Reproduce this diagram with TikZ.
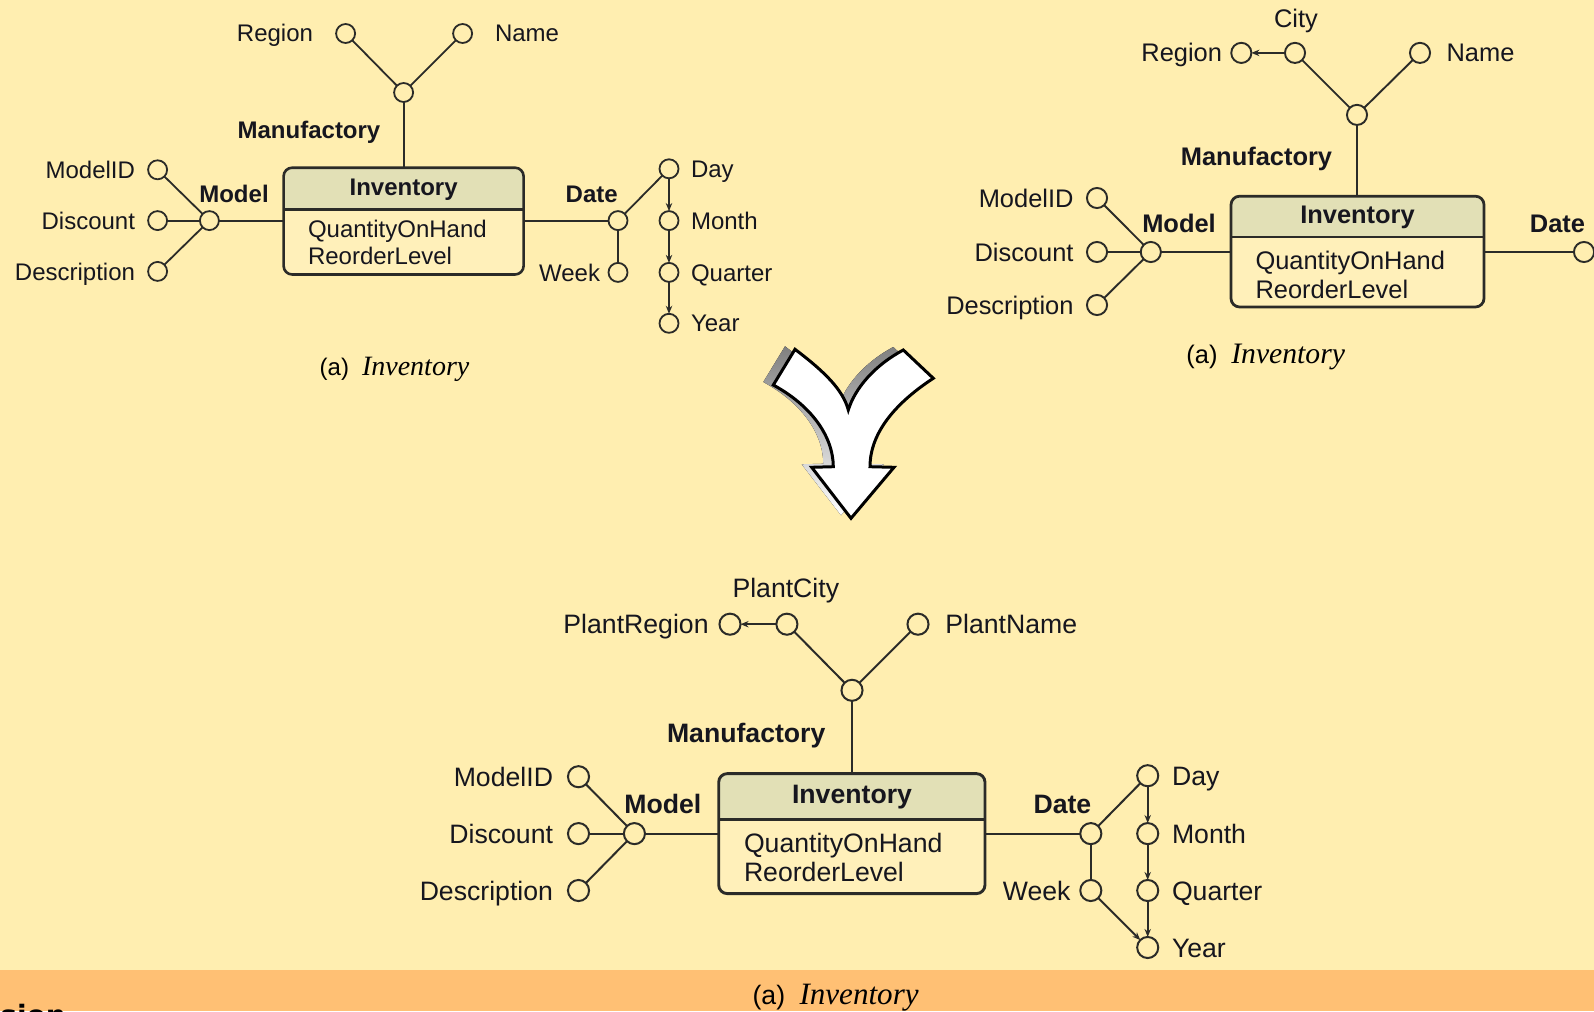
\documentclass[tikz,border=0pt]{standalone}
\usepackage{fontspec}
\setmainfont{Liberation Sans}
\newfontfamily\capserif{Liberation Serif}
\newfontfamily\handfont{DejaVu Sans}
\usetikzlibrary{arrows.meta}

\definecolor{bgc}{HTML}{FFEEB0}
\definecolor{band}{HTML}{FFC074}
\definecolor{hdr}{HTML}{E2E0B6}
\definecolor{bodyc}{HTML}{FFF0BA}
\definecolor{txt}{HTML}{16161E}
\definecolor{ink}{HTML}{2B2B28}
\definecolor{shade}{HTML}{CACAC6}

% per-diagram scale and fonts (redefined before each diagram)
\def\dsc{1}
\def\dfont{\fontsize{12}{14}\selectfont}
\def\cfont{\fontsize{14}{16}\selectfont}
\def\cgap{6.5pt}

\tikzset{
  attr/.style={circle, draw=ink, fill=bgc, line width=\dsc*0.9pt,
               minimum size=\dsc*9.5pt, inner sep=0pt, outer sep=0pt},
  lbl/.style={font=\dfont, text=txt, inner sep=0pt, outer sep=0pt},
  blbl/.style={font=\dfont\bfseries, text=txt, inner sep=0pt, outer sep=0pt},
  conn/.style={draw=ink, line width=\dsc*0.9pt},
  hier/.style={conn, -{Stealth[length=4pt, width=3.2pt]}},
  box/.style={rectangle, rounded corners=4.3pt, fill=bodyc, inner sep=0pt, outer sep=0pt},
  boxline/.style={draw=ink, line width=\dsc*1.3pt},
  fork/.style={fill=white, draw=black, line width=1.5pt, line join=miter},
}

% entity box: name, centre x, centre y, width, height, header height (px)
\newcommand{\entitybox}[6]{%
  \node[box, minimum width=#4*0.5pt, minimum height=#5*0.5pt] (#1) at (#2,#3) {};
  \begin{scope}
    \clip[rounded corners=4.3pt] (#1.north west) rectangle (#1.south east);
    \fill[hdr] (#1.north west) rectangle ([yshift=-#6*0.5pt]#1.north east);
  \end{scope}
  \draw[boxline] ([yshift=-#6*0.5pt]#1.north west) -- ([yshift=-#6*0.5pt]#1.north east);
  \draw[boxline, rounded corners=4.3pt] (#1.north west) rectangle (#1.south east);
}

% caption "(a) Inventory"
\newcommand{\capt}{{\dfont(a)}\hspace{\cgap}{\capserif\itshape\cfont Inventory}}

\begin{document}
\begin{tikzpicture}[x=0.5pt, y=-0.5pt]
\useasboundingbox (0,0) rectangle (1594,1011);
\clip (0,0) rectangle (1594,1011);

% background and caption band
\fill[bgc] (0,0) rectangle (1594,970);
\fill[band] (0,970) rectangle (1594,1011);

% ================= upper left schema =================
\def\dsc{1}\def\dfont{\fontsize{12}{14}\selectfont}
\def\cfont{\fontsize{14}{16}\selectfont}\def\cgap{6.5pt}
\entitybox{tlInv}{403.6}{221.1}{240}{106.8}{41.7}
\node[blbl, anchor=base] (tlInvT) at (403.6,195.6) {Inventory};
\node[lbl, anchor=base west] (tlInvA) at (308,237.3) {QuantityOnHand};
\node[lbl, anchor=base west] (tlInvB) at (308,264.6) {ReorderLevel};

\node[attr] (tlReg) at (345.6,33.5) {};
\node[attr] (tlName) at (462.6,33.5) {};
\node[attr] (tlMf) at (403.6,92.5) {};
\node[lbl, anchor=base east] (tlRegL) at (313,42) {Region};
\node[lbl, anchor=base west] (tlNameL) at (495,42) {Name};
\node[blbl, anchor=base] (tlMfL) at (309,139) {Manufactory};

\node[attr] (tlModel) at (209.4,220.6) {};
\node[blbl, anchor=base] (tlModelL) at (234,202.8) {Model};
\node[attr] (tlMid) at (157.6,169.8) {};
\node[attr] (tlDisc) at (157.6,220.6) {};
\node[attr] (tlDesc) at (157.6,271.4) {};
\node[lbl, anchor=base east] (tlMidL) at (135,178.4) {ModelID};
\node[lbl, anchor=base east] (tlDiscL) at (135,229.2) {Discount};
\node[lbl, anchor=base east] (tlDescL) at (135,280) {Description};

\node[attr] (tlDate) at (618,220.6) {};
\node[blbl, anchor=base] (tlDateL) at (591.7,202.8) {Date};
\node[attr] (tlDay) at (669,168.8) {};
\node[attr] (tlMonth) at (669,220.6) {};
\node[attr] (tlQuarter) at (669,272.4) {};
\node[attr] (tlYear) at (669,323.3) {};
\node[attr] (tlWeek) at (618,272.4) {};
\node[lbl, anchor=base west] (tlDayL) at (691,177.4) {Day};
\node[lbl, anchor=base west] (tlMonthL) at (691,229.2) {Month};
\node[lbl, anchor=base west] (tlQuarterL) at (691,281) {Quarter};
\node[lbl, anchor=base west] (tlYearL) at (691,331.9) {Year};
\node[lbl, anchor=base east] (tlWeekL) at (600,281) {Week};

\draw[conn] (tlReg) -- (tlMf);
\draw[conn] (tlName) -- (tlMf);
\draw[conn] (tlMf) -- (tlInv);
\draw[conn] (tlMid) -- (tlModel);
\draw[conn] (tlDisc) -- (tlModel);
\draw[conn] (tlDesc) -- (tlModel);
\draw[conn] (tlModel) -- (tlModel -| tlInv.west);
\draw[conn] (tlInv.east |- tlDate) -- (tlDate);
\draw[conn] (tlDate) -- (tlDay);
\draw[conn] (tlDate) -- (tlWeek);
\draw[hier] (tlDay) -- (tlMonth);
\draw[hier] (tlMonth) -- (tlQuarter);
\draw[hier] (tlQuarter) -- (tlYear);

\node[inner sep=0pt, anchor=base] (tlCap) at (394.5,375) {\capt};

% ================= upper right schema =================
\def\dsc{1.06}\def\dfont{\fontsize{12.72}{15}\selectfont}
\def\cfont{\fontsize{14.84}{17}\selectfont}\def\cgap{6.9pt}
\entitybox{trInv}{1357.5}{251.6}{253}{110.8}{40.8}
\node[blbl, anchor=base] (trInvT) at (1357.5,223.6) {Inventory};
\node[lbl, anchor=base west] (trInvA) at (1255.5,269.1) {QuantityOnHand};
\node[lbl, anchor=base west] (trInvB) at (1255.5,298.8) {ReorderLevel};

\node[attr] (trCity) at (1295,52.9) {};
\node[attr] (trReg) at (1241.3,52.9) {};
\node[attr] (trName) at (1420,52.9) {};
\node[attr] (trMf) at (1357,114.9) {};
\node[lbl, anchor=base] (trCityL) at (1296,27.4) {City};
\node[lbl, anchor=base east] (trRegL) at (1222,62) {Region};
\node[lbl, anchor=base west] (trNameL) at (1446.6,62) {Name};
\node[blbl, anchor=base] (trMfL) at (1256.5,165.7) {Manufactory};

\node[attr] (trModel) at (1150.8,252) {};
\node[blbl, anchor=base] (trModelL) at (1179,232.8) {Model};
\node[attr] (trMid) at (1097,198) {};
\node[attr] (trDisc) at (1097,252) {};
\node[attr] (trDesc) at (1097,305) {};
\node[lbl, anchor=base east] (trMidL) at (1073.5,207.1) {ModelID};
\node[lbl, anchor=base east] (trDiscL) at (1073.5,261.1) {Discount};
\node[lbl, anchor=base east] (trDescL) at (1073.5,314.1) {Description};

\node[attr] (trDate) at (1584,252) {};
\node[blbl, anchor=base] (trDateL) at (1557.5,232.7) {Date};

\draw[hier] (trCity) -- (trReg);
\draw[conn] (trCity) -- (trMf);
\draw[conn] (trName) -- (trMf);
\draw[conn] (trMf) -- (trMf |- trInv.north);
\draw[conn] (trMid) -- (trModel);
\draw[conn] (trDisc) -- (trModel);
\draw[conn] (trDesc) -- (trModel);
\draw[conn] (trModel) -- (trModel -| trInv.west);
\draw[conn] (trInv.east |- trDate) -- (trDate);

\node[inner sep=0pt, anchor=base] (trCap) at (1265.7,363) {\capt};

% ================= merge arrow =================
\fill[shade, shift={(-10,-3)}]
  (773.3,385) -- (795,349.3)
  .. controls (825,372) and (843,390) .. (848.3,410)
  .. controls (855,388) and (875,365) .. (903.3,350)
  -- (933.3,378.3)
  .. controls (900,400) and (870,430) .. (870,466.7)
  -- (894,467.3) -- (851,518.3) -- (811.7,467.3) -- (833.3,466.7)
  .. controls (833,435) and (810,405) .. (773.3,385) -- cycle;
\path[fork]
  (773.3,385) -- (795,349.3)
  .. controls (825,372) and (843,390) .. (848.3,410)
  .. controls (855,388) and (875,365) .. (903.3,350)
  -- (933.3,378.3)
  .. controls (900,400) and (870,430) .. (870,466.7)
  -- (894,467.3) -- (851,518.3) -- (811.7,467.3) -- (833.3,466.7)
  .. controls (833,435) and (810,405) .. (773.3,385) -- cycle;

% ================= merged schema =================
\def\dsc{1.11}\def\dfont{\fontsize{13.32}{16}\selectfont}
\def\cfont{\fontsize{15.54}{18}\selectfont}\def\cgap{7.2pt}
\entitybox{bInv}{851.85}{833.6}{266.3}{120}{45.8}
\node[blbl, anchor=base] (bInvT) at (852,803.5) {Inventory};
\node[lbl, anchor=base west] (bInvA) at (744,852.3) {QuantityOnHand};
\node[lbl, anchor=base west] (bInvB) at (744,881.7) {ReorderLevel};

\node[attr] (bCity) at (786.9,624.2) {};
\node[attr] (bReg) at (730,624.2) {};
\node[attr] (bName) at (918,624.2) {};
\node[attr] (bMf) at (852,690.3) {};
\node[lbl, anchor=base] (bCityL) at (785.8,597.1) {PlantCity};
\node[lbl, anchor=base east] (bRegL) at (708.6,633.7) {PlantRegion};
\node[lbl, anchor=base west] (bNameL) at (945.4,633.7) {PlantName};
\node[blbl, anchor=base] (bMfL) at (746.2,742.5) {Manufactory};

\node[attr] (bModel) at (634.4,833.6) {};
\node[blbl, anchor=base] (bModelL) at (662.8,813.6) {Model};
\node[attr] (bMid) at (578.5,776.7) {};
\node[attr] (bDisc) at (578.5,833.6) {};
\node[attr] (bDesc) at (578.5,890.5) {};
\node[lbl, anchor=base east] (bMidL) at (553,786.2) {ModelID};
\node[lbl, anchor=base east] (bDiscL) at (553,843.1) {Discount};
\node[lbl, anchor=base east] (bDescL) at (553,900) {Description};

\node[attr] (bDate) at (1090.8,833.6) {};
\node[blbl, anchor=base] (bDateL) at (1062.4,813.6) {Date};
\node[attr] (bDay) at (1147.7,775.7) {};
\node[attr] (bMonth) at (1147.7,833.6) {};
\node[attr] (bQuarter) at (1147.7,890.5) {};
\node[attr] (bYear) at (1147.7,947.5) {};
\node[attr] (bWeek) at (1090.8,890.5) {};
\node[lbl, anchor=base west] (bDayL) at (1172,785.2) {Day};
\node[lbl, anchor=base west] (bMonthL) at (1172,843.1) {Month};
\node[lbl, anchor=base west] (bQuarterL) at (1172,900) {Quarter};
\node[lbl, anchor=base west] (bYearL) at (1172,957) {Year};
\node[lbl, anchor=base east] (bWeekL) at (1070.5,900) {Week};

\draw[hier] (bCity) -- (bReg);
\draw[conn] (bCity) -- (bMf);
\draw[conn] (bName) -- (bMf);
\draw[conn] (bMf) -- (bMf |- bInv.north);
\draw[conn] (bMid) -- (bModel);
\draw[conn] (bDisc) -- (bModel);
\draw[conn] (bDesc) -- (bModel);
\draw[conn] (bModel) -- (bModel -| bInv.west);
\draw[conn] (bInv.east |- bDate) -- (bDate);
\draw[conn] (bDate) -- (bDay);
\draw[conn] (bDate) -- (bWeek);
\draw[hier] (bDay) -- (bMonth);
\draw[hier] (bMonth) -- (bQuarter);
\draw[hier] (bQuarter) -- (bYear);
\draw[hier] (bWeek) -- (bYear);

\node[inner sep=0pt, anchor=base] (bCap) at (835.6,1004.8) {\capt};

% word running off the lower edge
\node[inner sep=0pt, anchor=base west, text=black,
      font=\handfont\bfseries\fontsize{14}{16}\selectfont] (cutWord) at (0,1025) {sion};
\end{tikzpicture}
\end{document}
